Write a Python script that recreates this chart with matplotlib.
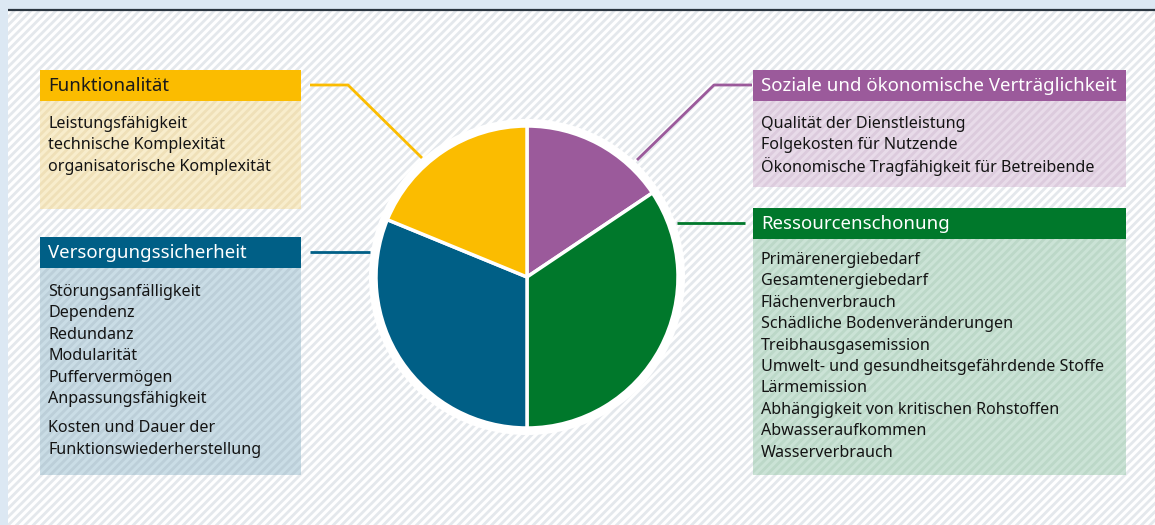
import matplotlib.pyplot as plt
from matplotlib.patches import Rectangle, Circle

plt.rcParams['font.family'] = ['Noto Sans', 'DejaVu Sans']
plt.rcParams['hatch.linewidth'] = 2.0

# pie shares, clockwise from 12 o'clock
categories = ['Soziale und ökonomische Verträglichkeit', 'Ressourcenschonung',
              'Versorgungssicherheit', 'Funktionalität']
shares = [15.6, 34.4, 31.2, 18.8]
colors = ['#9b5a9b', '#00782b', '#005f86', '#fbbc00']
body_fills = ['#e8dbe9', '#cbe3d6', '#cadde6', '#f8edcc']
body_stripes = ['#dccbdd', '#bcd8c8', '#bccfd9', '#efe0b8']
header_text = ['white', 'white', 'white', '#1a1a1a']

sozial_items = ['Qualität der Dienstleistung', 'Folgekosten für Nutzende',
                'Ökonomische Tragfähigkeit für Betreibende']
ressourcen_items = ['Primärenergiebedarf', 'Gesamtenergiebedarf', 'Flächenverbrauch',
                    'Schädliche Bodenveränderungen', 'Treibhausgasemission',
                    'Umwelt- und gesundheitsgefährdende Stoffe', 'Lärmemission',
                    'Abhängigkeit von kritischen Rohstoffen', 'Abwasseraufkommen',
                    'Wasserverbrauch']
versorgung_items = ['Störungsanfälligkeit', 'Dependenz', 'Redundanz', 'Modularität',
                    'Puffervermögen', 'Anpassungsfähigkeit',
                    'Kosten und Dauer der', 'Funktionswiederherstellung']
funktion_items = ['Leistungsfähigkeit', 'technische Komplexität',
                  'organisatorische Komplexität']
items = [sozial_items, ressourcen_items, versorgung_items, funktion_items]

# box layout in pixels: x, header top, width, body bottom, first line y, gap after line n
boxes = [
    (753, 70, 373, 187, 124, None),
    (753, 208, 373, 475, 260, None),
    (40, 237, 261, 475, 292, 6),
    (40, 70, 261, 209, 124, None),
]
# connector polylines (pixels)
connectors = [
    ([752, 714, 637], [85, 85, 160]),
    ([745, 677], [223, 223]),
    ([310, 370], [252, 252]),
    ([310, 348, 422], [85, 85, 158]),
]

W, H = 1155, 525
fig = plt.figure(figsize=(W / 100, H / 100), dpi=100, facecolor='#dce8f3')
ax = fig.add_axes([0, 0, 1, 1])

# hatched backdrop
ax.add_patch(Rectangle((8, 11), W - 8, H - 11, facecolor='white', edgecolor='#e4e8ec',
                       hatch='////', linewidth=0, zorder=0))
ax.plot([8, W], [10, 10], color='#2b3640', lw=1.6, zorder=1, solid_capstyle='butt')

hh = 31
for (x, top, w, bottom, y0, gap), name, col, fill, stripe, tcol, lines in zip(
        boxes, categories, colors, body_fills, body_stripes, header_text, items):
    ax.add_patch(Rectangle((x, top), w, hh, facecolor=col, linewidth=0, zorder=2))
    ax.add_patch(Rectangle((x, top + hh), w, bottom - top - hh, facecolor=fill,
                           edgecolor=stripe, hatch='////', linewidth=0, zorder=2))
    ax.text(x + 8, top + hh / 2 + 0.5, name, color=tcol, fontsize=13.4,
            va='center', ha='left', zorder=3)
    y = y0
    for i, line in enumerate(lines):
        if gap is not None and i == gap:
            y += 8
        ax.text(x + 8, y, line, color='#141414', fontsize=11.6, va='center', ha='left', zorder=3)
        y += 21.4

for (xs, ys), col in zip(connectors, colors):
    ax.plot(xs, ys, color=col, lw=2, zorder=2, solid_capstyle='butt')

# pie with white ring; y axis is inverted so startangle=-90 + counterclock
# renders clockwise from 12 o'clock on screen
cx, cy, r = 527, 277, 151
ax.add_patch(Circle((cx, cy), r + 7, facecolor='white', linewidth=0, zorder=3))
wedges, _ = ax.pie(shares, colors=colors, startangle=-90, counterclock=True,
                   center=(cx, cy), radius=r, frame=True,
                   wedgeprops=dict(edgecolor='white', linewidth=2.5))
for p in wedges:
    p.set_zorder(4)

ax.set_xlim(0, W)
ax.set_ylim(H, 0)
ax.set_axis_off()

fig.savefig('out.png', dpi=100, facecolor=fig.get_facecolor())
